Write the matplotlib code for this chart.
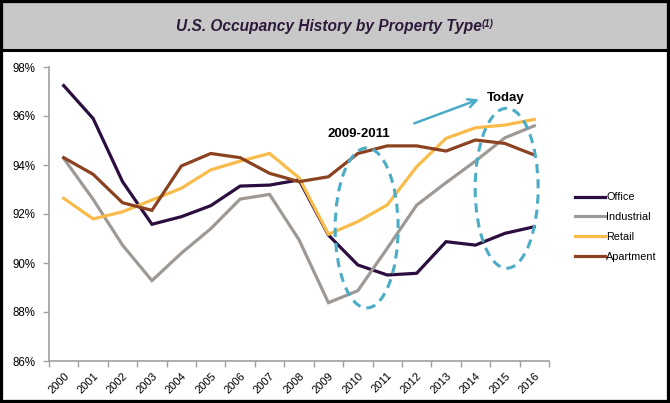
import matplotlib
matplotlib.use("Agg")
import matplotlib.pyplot as plt
from matplotlib.patches import Ellipse, Rectangle
from matplotlib.lines import Line2D

plt.rcParams['font.family'] = ['Liberation Sans', 'DejaVu Sans']

# Data
years = [str(y) for y in range(2000, 2017)]
office = [97.24, 95.90, 93.32, 91.58, 91.89, 92.34, 93.14, 93.18, 93.39,
          91.14, 89.92, 89.51, 89.58, 90.87, 90.73, 91.21, 91.48]
industrial = [94.27, 92.60, 90.73, 89.28, 90.40, 91.40, 92.61, 92.80, 90.95,
              88.38, 88.87, 90.60, 92.36, 93.28, 94.16, 95.11, 95.60]
retail = [92.64, 91.80, 92.09, 92.57, 93.05, 93.80, 94.16, 94.47, 93.48,
          91.17, 91.69, 92.37, 93.93, 95.09, 95.52, 95.63, 95.86]
apartment = [94.30, 93.62, 92.46, 92.15, 93.96, 94.47, 94.30, 93.66, 93.32,
             93.52, 94.47, 94.78, 94.78, 94.57, 95.02, 94.88, 94.41]

series = [("Office", office, "#2b0d3f"),
          ("Industrial", industrial, "#9e9994"),
          ("Retail", retail, "#f9bc4a"),
          ("Apartment", apartment, "#8b4220")]

W, H = 670, 403
fig = plt.figure(figsize=(W / 100, H / 100), dpi=100)
fig.patch.set_facecolor("white")

# title band and frame (drawn beneath the axes)
fig.patches.append(Rectangle((0, 1 - 49 / H), 1, 49 / H, transform=fig.transFigure,
                             facecolor="#c8c8c8", edgecolor="none", zorder=-2))
fig.lines.append(Line2D([0, 1], [1 - 49.5 / H, 1 - 49.5 / H], transform=fig.transFigure,
                        color="black", lw=2.2, zorder=-1))
fig.patches.append(Rectangle((0, 0), 1, 1, transform=fig.transFigure, fill=False,
                             edgecolor="black", lw=4.5, zorder=10))
title = fig.text(176 / W, 1 - 27 / H, "U.S. Occupancy History by Property Type",
                 ha="left", va="center", fontsize=11.2, fontweight="bold",
                 fontstyle="italic", color="#2e1a3a")

ax = fig.add_axes([49 / W, (H - 361) / H, 500 / W, 294 / H])
ax.annotate("(1)", xy=(1, 1), xycoords=title, xytext=(-0.5, 0.5), textcoords="offset points",
            ha="left", va="top", fontsize=7, fontweight="bold", fontstyle="italic",
            color="#2e1a3a", annotation_clip=False)

x = list(range(len(years)))
for name, vals, col in series:
    ax.plot(x, vals, color=col, lw=2.3, label=name, solid_joinstyle="miter")

ax.set_xlim(-0.5, len(years) - 0.5)
ax.set_ylim(86, 98)
ax.set_yticks(range(86, 99, 2))
ax.set_yticklabels([f"{v}%" for v in range(86, 99, 2)], fontsize=8.3)
ax.set_xticks(x)
ax.set_xticklabels(years, rotation=45, ha="right", rotation_mode="anchor", fontsize=8)
ax.set_xticks([i - 0.5 for i in range(len(years) + 1)], minor=True)
ax.tick_params(axis="x", which="major", length=0, pad=7)
ax.tick_params(axis="x", which="minor", length=4, color="#a0a0a0", width=1)
ax.tick_params(axis="y", length=4, color="#a0a0a0", width=1, pad=6)
for s in ["top", "right"]:
    ax.spines[s].set_visible(False)
for s in ["left", "bottom"]:
    ax.spines[s].set_color("#a0a0a0")
    ax.spines[s].set_linewidth(1.2)

# annotations
blue = "#4bacc6"
for cx, cy in [(10.3, 91.43), (15.06, 93.05)]:
    ax.add_patch(Ellipse((cx, cy), 2.14, 6.53, fill=False, edgecolor=blue, lw=2.2,
                         linestyle=(0, (3, 2)), clip_on=False, zorder=5))
ax.annotate("", xy=(14.21, 96.72), xytext=(11.83, 95.66),
            arrowprops=dict(arrowstyle="->", color=blue, lw=1.8, mutation_scale=15))
ax.text(10.05, 95.25, "2009-2011", ha="center", va="center", fontsize=9.5,
        fontweight="bold", color="black")
ax.text(14.38, 96.73, "Today", ha="left", va="center", fontsize=9.5,
        fontweight="bold", color="black")

fig.legend(loc="center left", bbox_to_anchor=(565 / W, 1 - 227 / H), frameon=False,
           fontsize=7.8, handlelength=2.8, handletextpad=0.1, labelspacing=0.9)

fig.savefig("out.png", dpi=100)
